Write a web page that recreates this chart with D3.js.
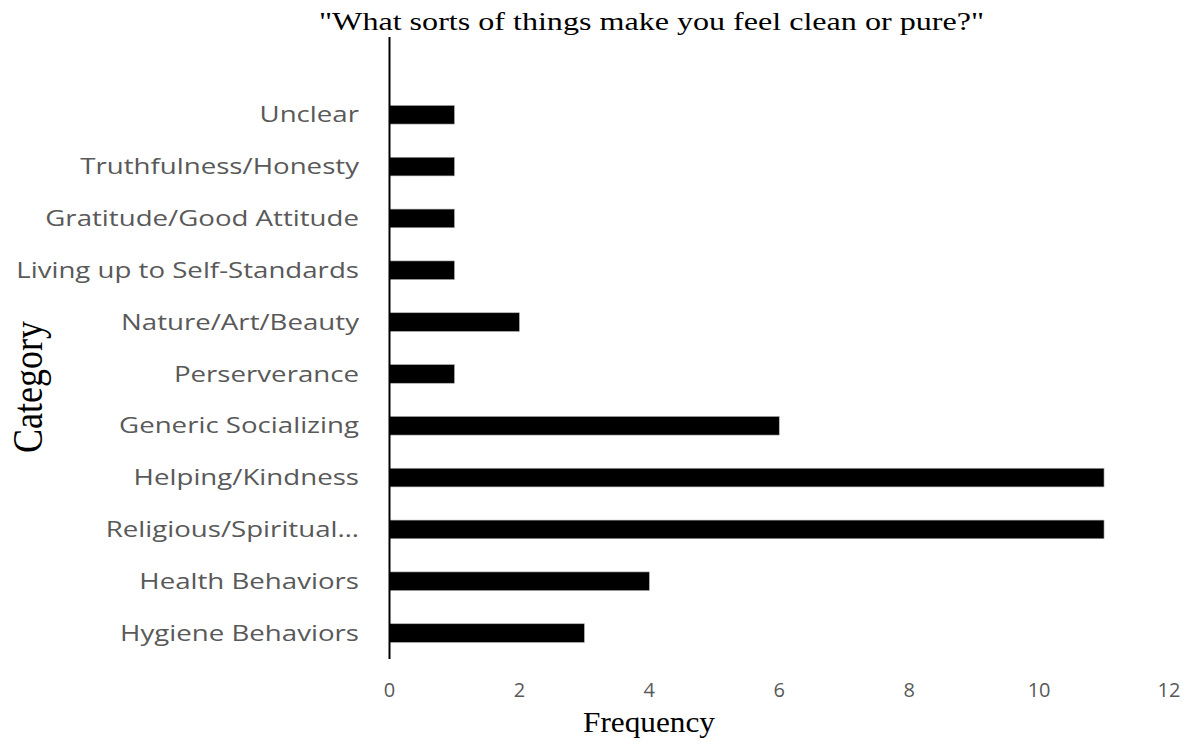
<!DOCTYPE html>
<html><head><meta charset="utf-8">
<script src="https://cdn.jsdelivr.net/npm/d3@7"></script>
<style>body{margin:0;background:#fff}</style>
</head><body>
<svg id="c" width="1197" height="744"></svg>
<script>
const categories = ["Unclear","Truthfulness/Honesty","Gratitude/Good Attitude","Living up to Self-Standards","Nature/Art/Beauty","Perserverance","Generic Socializing","Helping/Kindness","Religious/Spiritual…","Health Behaviors","Hygiene Behaviors"];
const values = [1,1,1,1,2,1,6,11,11,4,3];
const xTicks = [0,2,4,6,8,10,12];
const title = "\"What sorts of things make you feel clean or pure?\"";
const xLabel = "Frequency";
const yLabel = "Category";

const svg = d3.select("#c");
const x = d3.scaleLinear().domain([0,12]).range([389.5,1169]);
const y = d3.scaleBand().domain(["", ...categories]).range([37,659]).paddingInner(0.64).paddingOuter(0.32);

svg.selectAll("rect.bar").data(categories).enter().append("rect")
  .attr("class","bar")
  .attr("x", x(0))
  .attr("y", d => y(d))
  .attr("width", (d,i) => x(values[i]) - x(0))
  .attr("height", y.bandwidth())
  .attr("fill","#000")
  .attr("stroke","#b0b0b0").attr("stroke-width",0.6);

svg.append("line").attr("x1",x(0)).attr("x2",x(0)).attr("y1",37).attr("y2",659)
  .attr("stroke","#000").attr("stroke-width",2);

const sx = 1.257;
svg.selectAll("text.cat").data(categories).enter().append("text")
  .attr("class","cat")
  .attr("transform", d => `translate(359,${y(d) + y.bandwidth()/2}) scale(${sx},1)`)
  .attr("dy","0.35em").attr("text-anchor","end")
  .attr("font-family","'Open Sans', sans-serif").attr("font-size",22)
  .attr("fill","#595959").text(d => d);

svg.selectAll("text.tick").data(xTicks).enter().append("text")
  .attr("class","tick")
  .attr("x", d => x(d)).attr("y", 697)
  .attr("text-anchor","middle")
  .attr("font-family","'Open Sans', sans-serif").attr("font-size",20)
  .attr("fill","#595959").text(d => d);

svg.append("text").attr("x",319).attr("y",30)
  .attr("textLength",665).attr("lengthAdjust","spacingAndGlyphs")
  .attr("font-family","'Liberation Serif', serif")
  .attr("font-size",26).attr("fill","#000").text(title);

svg.append("text").attr("x",583).attr("y",731.5)
  .attr("textLength",132).attr("lengthAdjust","spacingAndGlyphs")
  .attr("font-family","'Liberation Serif', serif")
  .attr("font-size",29).attr("fill","#000").text(xLabel);

svg.append("text").attr("transform","translate(41.5,387) scale(1.15,1) rotate(-90)")
  .attr("text-anchor","middle").attr("font-family","'Liberation Serif', serif")
  .attr("font-size",36).attr("fill","#000").text(yLabel);
</script>
</body></html>
